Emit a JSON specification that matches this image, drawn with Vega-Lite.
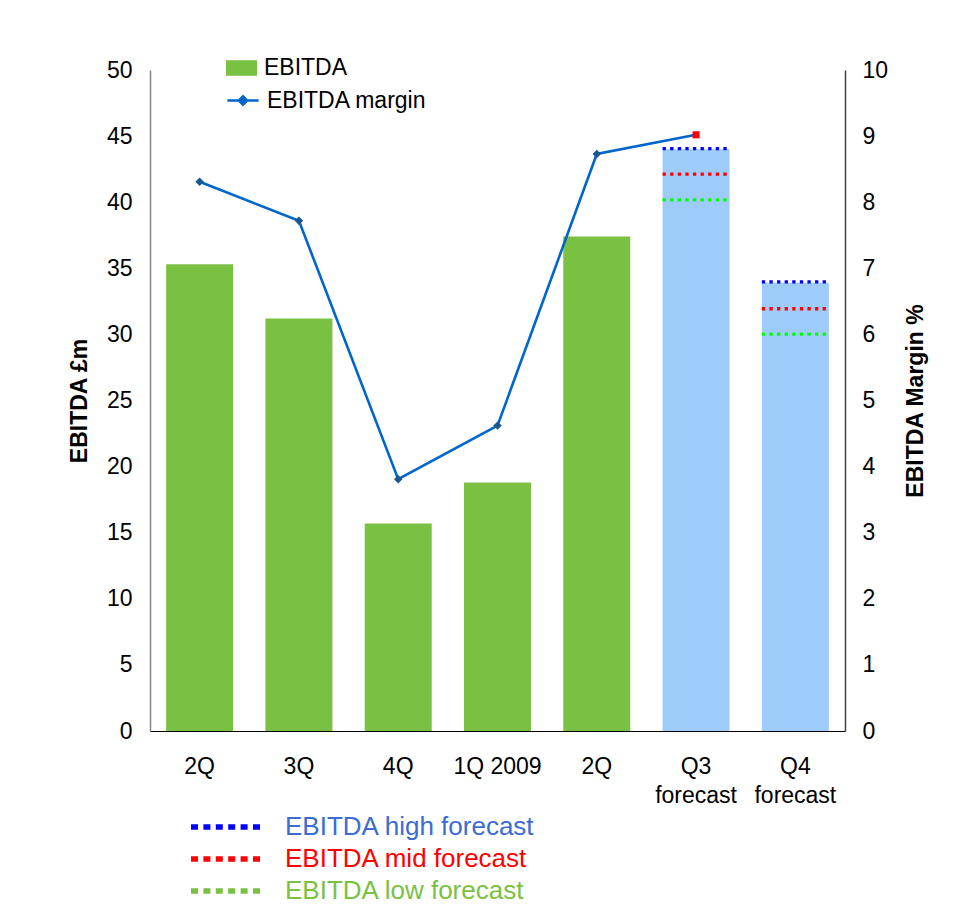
{
  "$schema": "https://vega.github.io/schema/vega-lite/v6.json",
  "autosize": "none",
  "width": 695,
  "height": 661,
  "padding": {"left": 150, "top": 70, "right": 111, "bottom": 181},
  "background": "white",
  "config": {
    "view": {"stroke": null},
    "font": "Liberation Sans",
    "axis": {"labelFont": "Liberation Sans", "titleFont": "Liberation Sans", "labelColor": "#000", "titleColor": "#000", "grid": false, "ticks": false},
    "legend": {"labelFont": "Liberation Sans", "labelColor": "#000", "padding": 0, "offset": 0, "labelLimit": 400}
  },
  "datasets": {
    "main": [
      {"period": "2Q", "ebitda": 35.3, "margin": 8.31, "kind": "EBITDA"},
      {"period": "3Q", "ebitda": 31.2, "margin": 7.72, "kind": "EBITDA"},
      {"period": "4Q", "ebitda": 15.7, "margin": 3.81, "kind": "EBITDA"},
      {"period": "1Q 2009", "ebitda": 18.8, "margin": 4.62, "kind": "EBITDA"},
      {"period": "2Q 2009", "ebitda": 37.4, "margin": 8.73, "kind": "EBITDA"},
      {"period": "Q3 forecast", "ebitda": 44.0, "margin": 9.02, "kind": "Forecast"},
      {"period": "Q4 forecast", "ebitda": 33.9, "margin": null, "kind": "Forecast"}
    ],
    "forecast": [
      {"period": "Q3 forecast", "level": "EBITDA high forecast", "value": 44.05},
      {"period": "Q3 forecast", "level": "EBITDA mid forecast", "value": 42.12},
      {"period": "Q3 forecast", "level": "EBITDA low forecast", "value": 40.17},
      {"period": "Q4 forecast", "level": "EBITDA high forecast", "value": 33.97},
      {"period": "Q4 forecast", "level": "EBITDA mid forecast", "value": 31.94},
      {"period": "Q4 forecast", "level": "EBITDA low forecast", "value": 30.02}
    ]
  },
  "layer": [
    {
      "layer": [
        {
          "data": {"name": "main"},
          "mark": {"type": "bar"},
          "encoding": {
            "x": {
              "field": "period", "type": "nominal",
              "scale": {"domain": ["2Q", "3Q", "4Q", "1Q 2009", "2Q 2009", "Q3 forecast", "Q4 forecast"], "paddingInner": 0.325, "paddingOuter": 0.1625},
              "axis": {
                "title": null, "labelAngle": 0, "labelFontSize": 23, "labelPadding": 24, "labelLineHeight": 29,
                "domainColor": "#000", "domainWidth": 1,
                "labelExpr": "datum.value == '2Q 2009' ? '2Q' : (indexof(datum.value, 'forecast') > 0 ? split(datum.value, ' ') : datum.label)"
              }
            },
            "y": {
              "field": "ebitda", "type": "quantitative",
              "scale": {"domain": [0, 50], "nice": false},
              "axis": {"title": "EBITDA £m", "orient": "left", "values": [0,5,10,15,20,25,30,35,40,45,50], "labelFontSize": 23, "labelPadding": 18, "titleFontSize": 23, "titleFontWeight": "bold", "titlePadding": 15, "domainColor": "#868686", "domainWidth": 1.5}
            },
            "fill": {
              "field": "kind", "type": "nominal",
              "scale": {"domain": ["EBITDA", "Forecast"], "range": ["#7AC143", "#9DCCFB"]},
              "legend": {"orient": "none", "legendX": 79.5, "legendY": -14, "title": null, "values": ["EBITDA"], "symbolType": "M-1.3,-0.65H1.3V0.65H-1.3Z", "symbolSize": 576, "symbolStrokeWidth": 0, "labelFontSize": 23, "labelOffset": 10.5}
            }
          }
        },
        {
          "data": {"name": "forecast"},
          "mark": {"type": "rule", "strokeWidth": 3.3, "strokeDash": [3.3, 4.3]},
          "encoding": {
            "x": {"field": "period", "type": "nominal", "bandPosition": 0},
            "x2": {"field": "period", "bandPosition": 1},
            "y": {"field": "value", "type": "quantitative", "title": "EBITDA £m"},
            "stroke": {
              "condition": {"test": "datum.level == 'EBITDA low forecast'", "value": "#00FF00"},
              "field": "level", "type": "nominal",
              "scale": {"domain": ["EBITDA high forecast", "EBITDA mid forecast", "EBITDA low forecast"], "range": ["#0000FF", "#FF0000", "#7AC143"]},
              "legend": {
                "orient": "none", "legendX": 62, "legendY": 742, "title": null,
                "symbolType": "M-3,0H3", "symbolSize": 576, "symbolStrokeWidth": 5.5, "symbolDash": [7, 5.4],
                "labelColor": {"expr": "datum.value == 'EBITDA high forecast' ? '#3C6CD2' : datum.value == 'EBITDA mid forecast' ? '#FF0000' : '#7AC143'"},
                "labelFontSize": 26, "labelOffset": 43, "rowPadding": 4
              }
            }
          }
        }
      ]
    },
    {
      "layer": [
        {
          "data": {"name": "main"},
          "transform": [{"filter": "isValid(datum.margin)"}],
          "mark": {"type": "line", "strokeWidth": 2.6},
          "encoding": {
            "x": {"field": "period", "type": "nominal"},
            "y": {
              "field": "margin", "type": "quantitative",
              "scale": {"domain": [0, 10], "nice": false},
              "axis": {"title": "EBITDA Margin %", "orient": "right", "values": [0,1,2,3,4,5,6,7,8,9,10], "format": "d", "labelFontSize": 23, "labelPadding": 17, "titleFontSize": 23, "titleFontWeight": "bold", "titleAngle": 270, "titlePadding": 40, "domainColor": "#404040", "domainWidth": 1.5}
            },
            "stroke": {
              "datum": "EBITDA margin",
              "scale": {"range": ["#0066CC"]},
              "legend": {"orient": "none", "legendX": 79.5, "legendY": 17, "title": null, "symbolType": "M-1.3,0H1.3M0,-0.35L0.35,0L0,0.35L-0.35,0Z", "symbolSize": 576, "symbolStrokeWidth": 2.5, "symbolFillColor": "#1B5691", "labelFontSize": 23, "labelOffset": 10.5}
            }
          }
        },
        {
          "data": {"name": "main"},
          "transform": [{"filter": "isValid(datum.margin)"}],
          "mark": {"type": "point", "filled": true, "opacity": 1},
          "encoding": {
            "x": {"field": "period", "type": "nominal"},
            "y": {"field": "margin", "type": "quantitative"},
            "shape": {"condition": {"test": "datum.period == 'Q3 forecast'", "value": "square"}, "value": "diamond"},
            "fill": {"condition": {"test": "datum.period == 'Q3 forecast'", "value": "#FF0000"}, "value": "#1B5691"},
            "size": {"condition": {"test": "datum.period == 'Q3 forecast'", "value": 50}, "value": 72}
          }
        }
      ]
    }
  ],
  "resolve": {"scale": {"y": "independent", "stroke": "independent"}}
}
